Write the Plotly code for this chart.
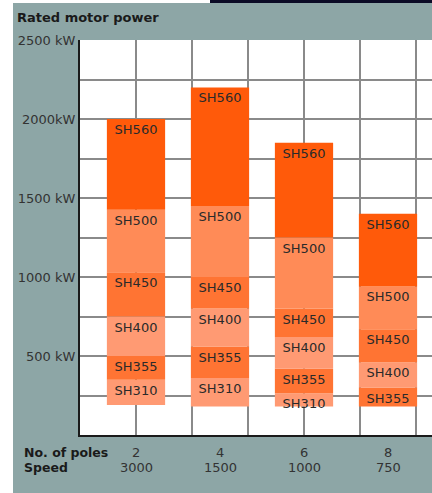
import plotly.graph_objects as go

# ---------------- data ----------------
poles = ["2", "4", "6", "8"]
speeds_rpm = ["3000", "1500", "1000", "750"]
frame_sizes = ["SH310", "SH355", "SH400", "SH450", "SH500", "SH560"]

# kW boundaries: lower limit of each frame size, then the top of the range
kw_2_pole = [190, 350, 500, 750, 1030, 1425, 2000]
kw_4_pole = [180, 360, 560, 800, 1000, 1450, 2200]
kw_6_pole = [180, 265, 420, 620, 800, 1250, 1850]
kw_8_pole = [None, 180, 300, 460, 670, 940, 1400]

y_tick_values = [500, 1000, 1500, 2000, 2500]
y_tick_labels = ["500 kW", "1000 kW", "1500 kW", "2000kW", "2500 kW"]

title_text = "Rated motor power"
row_labels = ["No. of poles", "Speed"]

# ---------------- styles ----------------
frame_colors = ["#FF9A73", "#FF7433", "#FF9A73", "#FF7433", "#FF8B57", "#FF5A0A"]
panel_color = "#8DA6A6"
grid_color = "#8a8a8a"
axis_color = "#1a1a1a"
text_color = "#2a2a2a"
font_family = "DejaVu Sans"

W, H = 432, 493
ML, MT, MB, MR = 80, 40, 58, 0
plot_w = W - ML - MR
plot_h = H - MT - MB
grid_px = 56.0
x_max = plot_w / grid_px
bar_positions = [1 + 1.5 * i for i in range(len(poles))]
bar_width = 1.04

pole_limits = [kw_2_pole, kw_4_pole, kw_6_pole, kw_8_pole]

fig = go.Figure()
for fi, frame in enumerate(frame_sizes):
    xs, bases, heights, texts = [], [], [], []
    for pi, lim in enumerate(pole_limits):
        lo, hi = lim[fi], lim[fi + 1]
        if lo is None or hi is None:
            continue
        xs.append(bar_positions[pi])
        bases.append(lo)
        heights.append(hi - lo)
        texts.append(frame)
    fig.add_trace(go.Bar(
        x=xs, y=heights, base=bases, width=bar_width,
        marker=dict(color=frame_colors[fi], line=dict(width=0)),
        text=texts, textposition="inside", insidetextanchor="end",
        textangle=0, constraintext="none",
        textfont=dict(family=font_family, size=13, color=text_color),
        hoverinfo="skip", name=frame,
    ))

grid_vals = list(range(0, 2501, 250))
grid_text = [y_tick_labels[y_tick_values.index(v)] if v in y_tick_values else "" for v in grid_vals]

def px_x(p):
    return (p - ML) / plot_w

def px_y(p):
    return 1 + (MT - p) / plot_h

shapes = [
    dict(type="rect", xref="paper", yref="paper", x0=px_x(0), x1=px_x(13),
         y0=px_y(H + 2), y1=px_y(-2), fillcolor="white", line=dict(width=0), layer="above"),
    dict(type="rect", xref="paper", yref="paper", x0=px_x(0), x1=px_x(210),
         y0=px_y(3), y1=px_y(-2), fillcolor="white", line=dict(width=0), layer="above"),
    dict(type="rect", xref="paper", yref="paper", x0=px_x(210), x1=px_x(W + 2),
         y0=px_y(3), y1=px_y(-2), fillcolor="#0b0b26", line=dict(width=0), layer="above"),
]

annotations = [
    dict(text="<b>" + title_text + "</b>", xref="paper", yref="paper",
         x=px_x(15), y=px_y(18), xanchor="left", yanchor="middle", showarrow=False,
         font=dict(family=font_family, size=13, color=axis_color)),
]
for ri, lab in enumerate(row_labels):
    annotations.append(dict(
        text="<b>" + lab + "</b>", xref="paper", yref="paper",
        x=px_x(22), y=px_y(452 + 15 * ri), xanchor="left", yanchor="middle",
        showarrow=False, font=dict(family=font_family, size=12.5, color=axis_color)))
for pi in range(len(poles)):
    for ri, txt in enumerate([poles[pi], speeds_rpm[pi]]):
        annotations.append(dict(
            text=txt, xref="x", yref="paper", x=bar_positions[pi],
            y=px_y(452 + 15 * ri), xanchor="center", yanchor="middle",
            showarrow=False, font=dict(family=font_family, size=13, color="#333333")))

fig.update_layout(
    width=W, height=H,
    margin=dict(l=ML, r=MR, t=MT, b=MB, pad=0),
    paper_bgcolor=panel_color, plot_bgcolor="white",
    barmode="overlay", showlegend=False,
    xaxis=dict(range=[0, x_max], tick0=0, dtick=1, showticklabels=False,
               showgrid=True, gridcolor=grid_color, gridwidth=2, zeroline=False,
               showline=True, linecolor=axis_color, linewidth=2, ticks="",
               fixedrange=True),
    yaxis=dict(range=[0, 2500], tickmode="array", tickvals=grid_vals, ticktext=grid_text,
               showgrid=True, gridcolor=grid_color, gridwidth=2, zeroline=False,
               showline=True, linecolor=axis_color, linewidth=2, ticks="",
               tickfont=dict(family=font_family, size=13, color="#333333"),
               fixedrange=True),
    shapes=shapes, annotations=annotations,
    font=dict(family=font_family),
)

fig.write_html("out.html", config={"displayModeBar": False})
